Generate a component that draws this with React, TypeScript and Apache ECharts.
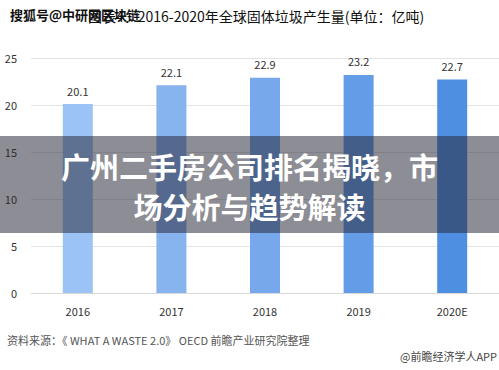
import React, { useEffect, useRef } from "react";
import * as echarts from "echarts";

const categories = ["2016", "2017", "2018", "2019", "2020E"];
const values = [20.1, 22.1, 22.9, 23.2, 22.7];
const barColors = ["#9cc3f5", "#87b3ef", "#76a8eb", "#659ce7", "#4f8fe2"];
const yTicks = [0, 5, 10, 15, 20, 25];

const titleText = "图表4：2016-2020年全球固体垃圾产生量(单位：亿吨)";
const watermarkText = "搜狐号@中研网区块链";
const overlayLine1 = "广州二手房公司排名揭晓，市";
const overlayLine2 = "场分析与趋势解读";
const sourceText = "资料来源：《 WHAT A WASTE 2.0》 OECD 前瞻产业研究院整理";
const creditText = "@前瞻经济学人APP";

const FONT = "'Noto Sans CJK SC', 'Noto Sans', sans-serif";

export default function App() {
  const ref = useRef<HTMLDivElement>(null);
  useEffect(() => {
    if (!ref.current) return;
    const chart = echarts.init(ref.current, null, { renderer: "svg" });
    chart.setOption({
      animation: false,
      backgroundColor: "#ffffff",
      textStyle: { fontFamily: FONT },
      grid: { left: 31, top: 58, width: 480, height: 235 },
      xAxis: {
        type: "category",
        data: categories,
        axisLine: { lineStyle: { color: "#d9d9d9" } },
        axisTick: { show: false },
        axisLabel: { color: "#333", fontSize: 11, margin: 12, fontFamily: FONT },
      },
      yAxis: {
        type: "value",
        min: yTicks[0],
        max: yTicks[yTicks.length - 1],
        interval: 5,
        axisLine: { show: false },
        axisTick: { show: false },
        splitLine: { lineStyle: { color: "#e3e3e3" } },
        axisLabel: { color: "#333", fontSize: 11, margin: 14, fontFamily: FONT },
      },
      series: [
        {
          type: "bar",
          barWidth: 30,
          data: values.map((v, i) => ({ value: v, itemStyle: { color: barColors[i] } })),
          label: {
            show: true,
            position: "top",
            distance: 8,
            color: "#333",
            fontSize: 11,
            fontFamily: FONT,
          },
        },
      ],
      graphic: [
        {
          type: "text",
          left: 88,
          top: 9,
          z: 10,
          style: { text: titleText, fill: "#111", font: `14px ${FONT}` },
        },
        {
          type: "text",
          left: 10,
          top: 8,
          z: 11,
          style: { text: watermarkText, fill: "#111", font: `bold 13px ${FONT}` },
        },
        {
          type: "text",
          left: 7,
          top: 334,
          z: 10,
          style: { text: sourceText, fill: "#555", font: `11px ${FONT}` },
        },
        {
          type: "text",
          right: 2,
          top: 350,
          z: 10,
          style: { text: creditText, fill: "#444", font: `11px ${FONT}` },
        },
        {
          type: "rect",
          left: 0,
          top: 136,
          z: 100,
          shape: { width: 499, height: 97 },
          style: { fill: "rgba(40,40,55,0.53)" },
        },
        {
          type: "text",
          left: "center",
          top: 151,
          z: 101,
          style: { text: overlayLine1, fill: "#fff", font: `bold 29px ${FONT}` },
        },
        {
          type: "text",
          left: "center",
          top: 191,
          z: 101,
          style: { text: overlayLine2, fill: "#fff", font: `bold 29px ${FONT}` },
        },
      ],
    });
    return () => chart.dispose();
  }, []);
  return <div ref={ref} style={{ width: 499, height: 370, position: "absolute", left: 0, top: 0 }} />;
}
